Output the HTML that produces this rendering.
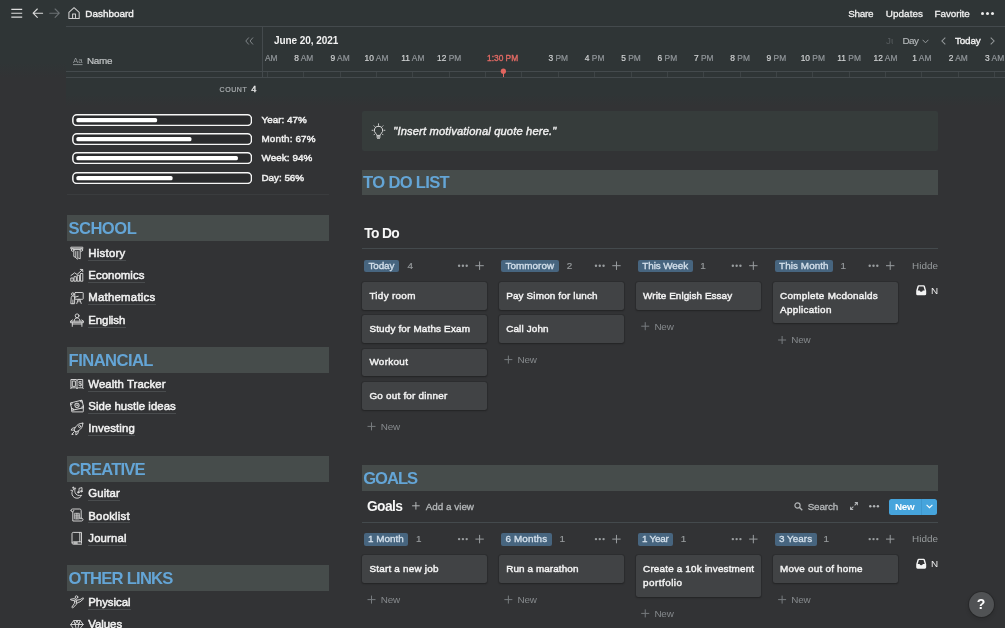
<!DOCTYPE html>
<html><head><meta charset="utf-8">
<style>
*{box-sizing:border-box;margin:0;padding:0}
html,body{width:1005px;height:628px;overflow:hidden;background:#323335}
body{font-family:"Liberation Sans",sans-serif;color:#e6e6e6;position:relative;font-size:10px;will-change:transform}
.a{position:absolute;white-space:nowrap}
.ln{position:absolute;background:#444a4d;height:1px}
.vl{position:absolute;background:#444a4d;width:1px}
.t{position:absolute;white-space:nowrap}
.hb{position:absolute;background:#464c4b;height:25.6px}
.ul{position:absolute;left:88px;height:1px;background:#494c4e}
.ic{position:absolute;left:69.5px;width:14.5px;height:14.5px}
.card{position:absolute;width:125.2px;background:#414345;border-radius:2.500px;box-shadow:0 1px 2px rgba(15,15,15,.32),0 0 0 1px rgba(15,15,15,.12)}
.tag{position:absolute;background:#47657f;border-radius:2px;height:12.6px}
.hour{position:absolute;font-size:8.4px;line-height:11px;color:#91969a;-webkit-text-stroke:.2px;white-space:nowrap;transform:translateX(-50%)}
.hour b{color:#cfd1d2;font-weight:normal}
.tick{position:absolute;top:72px;width:1px;height:5px;background:#3e4446}
.bar{position:absolute;left:71.6px;width:180.6px;height:12px;border:1.4px solid #f4f4f4;border-radius:4.5px}
.bar i{position:absolute;left:3px;top:2.4px;height:4.4px;background:#fff;border-radius:2px;display:block}
.dots{position:absolute;width:11px;height:3px}
.dots i{position:absolute;top:0;width:2.3px;height:2.3px;border-radius:50%;background:#9a9ea0}
.dots i:nth-child(1){left:0}.dots i:nth-child(2){left:3.9px}.dots i:nth-child(3){left:7.800px}
.plus{position:absolute;width:9px;height:9px}
.plus:before{content:"";position:absolute;left:0;top:4px;width:9px;height:1px;background:#9a9ea0}
.plus:after{content:"";position:absolute;left:4px;top:0;width:1px;height:9px;background:#9a9ea0}
.p2{width:8px;height:8px}.p2:before{width:8px;top:3.5px;background:#777b7e}.p2:after{height:8px;left:3.5px;background:#777b7e}
</style></head><body>

<div class="a" style="left:66px;top:0;width:939px;height:106px;background:linear-gradient(#2f3536 0,#2f3536 94px,rgba(47,53,54,0) 106px)"></div>
<div class="a" style="left:0;top:0;width:66px;height:78px;background:linear-gradient(#2f3536 0,#2f3536 62px,rgba(47,53,54,0) 78px)"></div>
<!-- TOP BAR ICONS -->
<svg class="a" style="left:0;top:0" width="100" height="26" viewBox="0 0 100 26" fill="none" stroke-linecap="round" stroke-linejoin="round">
<path d="M11.300 9.300H22.200M11.300 13.200H22.200M11.300 17.100H22.200" stroke="#dedede" stroke-width="1.150" stroke-linecap="butt"/>
<path d="M42.600 13.200H33.500M37.300 9L33.100 13.200l4.200 4.200" stroke="#dcdcdc" stroke-width="1.100"/>
<path d="M49.800 13.200H58.900M55.100 9l4.200 4.200-4.200 4.200" stroke="#6c7174" stroke-width="1.100"/>
<path d="M68.900 12.300L74.050 7.700l5.150 4.600v6.100H68.900zM72.600 18.400v-4.300h2.900v4.300" stroke="#d0d0d0" stroke-width="1.050"/>
</svg>
<div class="a" style="left:980.5px;top:11.8px;width:3px;height:3px;border-radius:50%;background:#ebebeb;box-shadow:5px 0 0 #ebebeb,10px 0 0 #ebebeb"></div>

<div class="ln" style="left:66px;top:26px;width:939px"></div>

<!-- TIMELINE -->
<div class="vl" style="left:262px;top:26px;height:52px"></div>
<svg class="a" style="left:244.5px;top:36.8px" width="9" height="8" viewBox="0 0 9 8"><path d="M3.800 .5L.8 4l3 3.500M8 .5L5 4l3 3.500" stroke="#858a8d" stroke-width=".95" fill="none"/></svg>
<svg class="a" style="left:72.5px;top:56px" width="10" height="10" viewBox="0 0 10 10"><text x="0" y="6.500" font-size="7.800" font-family="Liberation Sans" fill="#94999b">Aa</text><path d="M0 8.600h9.500" stroke="#94999b" stroke-width=".9"/></svg>
<div class="ln" style="left:66px;top:71px;width:939px"></div>
<div class="ln" style="left:66px;top:77px;width:939px"></div>
<div class="hour" style="left:303.8px;top:53.19px"><b>8</b> AM</div>
<div class="hour" style="left:340.1px;top:53.19px"><b>9</b> AM</div>
<div class="hour" style="left:376.5px;top:53.19px"><b>10</b> AM</div>
<div class="hour" style="left:412.8px;top:53.19px"><b>11</b> AM</div>
<div class="hour" style="left:449.2px;top:53.19px"><b>12</b> PM</div>
<div class="hour" style="left:558.3px;top:53.19px"><b>3</b> PM</div>
<div class="hour" style="left:594.6px;top:53.19px"><b>4</b> PM</div>
<div class="hour" style="left:631.0px;top:53.19px"><b>5</b> PM</div>
<div class="hour" style="left:667.4px;top:53.19px"><b>6</b> PM</div>
<div class="hour" style="left:703.7px;top:53.19px"><b>7</b> PM</div>
<div class="hour" style="left:740.1px;top:53.19px"><b>8</b> PM</div>
<div class="hour" style="left:776.4px;top:53.19px"><b>9</b> PM</div>
<div class="hour" style="left:812.8px;top:53.19px"><b>10</b> PM</div>
<div class="hour" style="left:849.1px;top:53.19px"><b>11</b> PM</div>
<div class="hour" style="left:885.5px;top:53.19px"><b>12</b> AM</div>
<div class="hour" style="left:921.9px;top:53.19px"><b>1</b> AM</div>
<div class="hour" style="left:958.2px;top:53.19px"><b>2</b> AM</div>
<div class="hour" style="left:994.6px;top:53.19px"><b>3</b> AM</div>
<div class="hour" style="left:264.9px;top:53.19px;transform:none">AM</div>
<div class="hour" style="left:502.6px;top:53.19px;color:#e26a64;-webkit-text-stroke:.35px #e26a64">1:30 PM</div>
<div class="tick" style="left:266.9px"></div>
<div class="tick" style="left:303.2px"></div>
<div class="tick" style="left:339.6px"></div>
<div class="tick" style="left:376.0px"></div>
<div class="tick" style="left:412.3px"></div>
<div class="tick" style="left:448.7px"></div>
<div class="tick" style="left:485.1px"></div>
<div class="tick" style="left:521.4px"></div>
<div class="tick" style="left:557.8px"></div>
<div class="tick" style="left:594.1px"></div>
<div class="tick" style="left:630.5px"></div>
<div class="tick" style="left:666.9px"></div>
<div class="tick" style="left:703.2px"></div>
<div class="tick" style="left:739.6px"></div>
<div class="tick" style="left:775.9px"></div>
<div class="tick" style="left:812.3px"></div>
<div class="tick" style="left:848.6px"></div>
<div class="tick" style="left:885.0px"></div>
<div class="tick" style="left:921.4px"></div>
<div class="tick" style="left:957.7px"></div>
<div class="tick" style="left:994.1px"></div>
<svg class="a" style="left:922.4px;top:38.6px" width="7" height="5" viewBox="0 0 7 5"><path d="M.6 .8L3.500 3.800 6.400 .8" stroke="#94999b" stroke-width="1" fill="none"/></svg>
<svg class="a" style="left:940.5px;top:36.6px" width="5" height="8" viewBox="0 0 5 8"><path d="M4.300 .6L.9 4l3.400 3.400" stroke="#94999b" stroke-width="1.050" fill="none"/></svg>
<svg class="a" style="left:990px;top:36.6px" width="5" height="8" viewBox="0 0 5 8"><path d="M.7 .6L4.100 4 .7 7.400" stroke="#94999b" stroke-width="1.050" fill="none"/></svg>
<!-- red marker -->
<svg class="a" style="left:498px;top:66px" width="12" height="12" viewBox="0 0 12 12"><circle cx="5.400" cy="5.200" r="2.600" fill="#e2655f"/></svg>
<div class="a" style="left:503px;top:72px;width:1px;height:5px;background:#e2655f"></div>

<!-- PROGRESS BARS -->
<svg class="a" style="left:71.9px;top:113.50px" width="180.300" height="12.2" viewBox="0 0 180.300 12.2"><rect x=".75" y=".75" width="178.800" height="10.7" rx="4" fill="#2a2b2d" stroke="#f6f6f6" stroke-width="1.5"/><rect x="4.300" y="3.900" width="80.8" height="4.400" rx="1.600" fill="#fff"/></svg>
<svg class="a" style="left:71.9px;top:132.85px" width="180.300" height="12.2" viewBox="0 0 180.300 12.2"><rect x=".75" y=".75" width="178.800" height="10.7" rx="4" fill="#2a2b2d" stroke="#f6f6f6" stroke-width="1.5"/><rect x="4.300" y="3.900" width="115.2" height="4.400" rx="1.600" fill="#fff"/></svg>
<svg class="a" style="left:71.9px;top:152.20px" width="180.300" height="12.2" viewBox="0 0 180.300 12.2"><rect x=".75" y=".75" width="178.800" height="10.7" rx="4" fill="#2a2b2d" stroke="#f6f6f6" stroke-width="1.5"/><rect x="4.300" y="3.900" width="161.7" height="4.400" rx="1.600" fill="#fff"/></svg>
<svg class="a" style="left:71.9px;top:171.55px" width="180.300" height="12.2" viewBox="0 0 180.300 12.2"><rect x=".75" y=".75" width="178.800" height="10.7" rx="4" fill="#2a2b2d" stroke="#f6f6f6" stroke-width="1.5"/><rect x="4.300" y="3.900" width="96.3" height="4.400" rx="1.600" fill="#fff"/></svg>
<div class="ln" style="left:67px;top:194px;width:262px;background:#3a3c3e"></div>

<!-- HEADER BACKGROUNDS -->
<div class="hb" style="left:67px;top:215.1px;width:262px"></div>
<div class="hb" style="left:67px;top:347px;width:262px"></div>
<div class="hb" style="left:67px;top:456px;width:262px"></div>
<div class="hb" style="left:67px;top:565.3px;width:262px"></div>
<div class="hb" style="left:361.5px;top:169.6px;width:576.5px"></div>
<div class="hb" style="left:361.5px;top:465px;width:576.5px"></div>

<!-- CALLOUT -->
<div class="a" style="left:361.5px;top:110.7px;width:576.5px;height:40.3px;background:#363c3b;border-radius:2px"></div>

<!-- board lines -->
<div class="ln" style="left:362px;top:248.2px;width:576px"></div>
<div class="ln" style="left:362px;top:521.800px;width:576px"></div>

<!-- Goals toolbar -->
<svg class="a" style="left:794.3px;top:502.2px" width="9" height="9" viewBox="0 0 9 9"><circle cx="3.500" cy="3.500" r="2.600" stroke="#b2b5b7" stroke-width="1.150" fill="none"/><path d="M5.500 5.500L8.300 8.300" stroke="#b2b5b7" stroke-width="1.300"/></svg>
<svg class="a" style="left:850.2px;top:502.2px" width="8" height="8" viewBox="0 0 8 8"><path d="M4.800 .6h2.600v2.600M7.400 .6L4.600 3.400M3.200 7.400H.6V4.800M.6 7.400l2.800-2.800" stroke="#b2b5b7" stroke-width="1.050" fill="none"/></svg>
<div class="a" style="left:889px;top:498.500px;width:48.2px;height:16.5px;background:#46a4dc;border-radius:2.500px"></div>
<div class="a" style="left:920.6px;top:498.500px;width:1px;height:16.5px;background:#3f97cd"></div>
<svg class="a" style="left:926px;top:504.2px" width="7" height="5" viewBox="0 0 7 5"><path d="M.6 .8L3.500 3.700 6.400 .8" stroke="#fff" stroke-width="1.100" fill="none"/></svg>

<svg class="a" style="left:69.8px;top:245.6px" width="14" height="14" viewBox="0 0 14 14"><g stroke="#d8d8d8" stroke-width=".95" fill="none" stroke-linecap="round" stroke-linejoin="round"><path d="M1.2 1.2h11.6v1.600H1.2z"/><circle cx="2.700" cy="4" r="1.300"/><circle cx="11.3" cy="4" r="1.300"/><path d="M4 3.600h6M3.800 5.500v5l2.200 1 1.200 1.700 1.400-1 1.600.6V5.500M5.800 5.500v5.500M7.800 5.500v6.200"/></g></svg>
<svg class="a" style="left:69.5px;top:268.2px" width="14" height="14" viewBox="0 0 14 14"><g stroke="#d8d8d8" stroke-width=".95" fill="none" stroke-linecap="round" stroke-linejoin="round"><path d="M1.200 13.200h2v-3.200h-2zM4.400 13.200h2V8.700h-2zM7.600 13.200h2V7.300h-2zM10.800 13.200h2V5.500h-2z"/><path d="M1 7.500l3.700-2.700 2.300 1.700 5.500-4.800M10.300 1.400l2.400.1.100 2.300"/></g></svg>
<svg class="a" style="left:69.9px;top:290.6px" width="14" height="14" viewBox="0 0 14 14"><g stroke="#d8d8d8" stroke-width=".95" fill="none" stroke-linecap="round" stroke-linejoin="round"><rect x="4.800" y="1.500" width="8.400" height="6.800" rx=".6"/><path d="M8.200 8.300l-1.400 4.200M9.800 8.300l1.400 4.200M9 8.300v2.500"/><circle cx="2.800" cy="3.100" r="1.300"/><path d="M1.200 6.300a1.200 1.200 0 0 1 1.200-1.200h1a1.200 1.200 0 0 1 1.200 1.200v6.400H1.200zM4.600 6.200l3.600-.9M2.900 9v3.700"/></g></svg>
<svg class="a" style="left:69.8px;top:312.8px" width="14" height="14" viewBox="0 0 14 14"><g stroke="#d8d8d8" stroke-width=".95" fill="none" stroke-linecap="round" stroke-linejoin="round"><circle cx="7.100" cy="2.800" r="1.900"/><path d="M4.200 8.200c0-2.200 1.200-3.300 2.900-3.300s2.900 1.100 2.900 3.300M.8 8.200h12.600v1.500H.8zM2.300 9.700v3.700M11.900 9.700v3.700M2.300 11h9.600"/><path d="M.8 8.200l1.600-1.300M13.400 8.200l-1.600-1.300"/></g></svg>
<svg class="a" style="left:69.6px;top:377.4px" width="14" height="14" viewBox="0 0 14 14"><g stroke="#d8d8d8" stroke-width=".95" fill="none" stroke-linecap="round" stroke-linejoin="round"><path d="M1.300 2.500h4.700c.6 0 1 .4 1 .9 0-.5.400-.9 1-.9h4.700v8.300H8.200c-.7 0-1.200.3-1.200.8 0-.5-.500-.8-1.200-.8H1.300zM7 3.400v8.200M.8 11.600l.5-.8M13.200 11.600l-.5-.8"/><path d="M2.700 4h2.700v5.400H2.700z"/><text x="8.300" y="9.200" font-size="6.800" font-weight="bold" font-family="Liberation Sans" fill="#d0d0d0" stroke="none">$</text></g></svg>
<svg class="a" style="left:69.9px;top:399.4px" width="14" height="14" viewBox="0 0 14 14"><g stroke="#d8d8d8" stroke-width=".95" fill="none" stroke-linecap="round" stroke-linejoin="round"><rect x="1.700" y="6.400" width="11.600" height="6.500" rx=".4"/><g transform="rotate(-13 7 6.300)"><rect x="1" y="2.500" width="12" height="7.600" rx=".4" fill="#323335"/><circle cx="7" cy="6.300" r="2.100"/><circle cx="7" cy="6.300" r=".6" stroke-width=".7"/><path d="M1 4.300a1.800 1.800 0 0 0 1.800-1.800M13 4.300a1.800 1.800 0 0 1-1.800-1.800M1 8.300a1.800 1.800 0 0 1 1.800 1.800M13 8.300a1.800 1.800 0 0 0-1.800 1.800"/></g></g></svg>
<svg class="a" style="left:69.9px;top:422px" width="14" height="14" viewBox="0 0 14 14"><g stroke="#d8d8d8" stroke-width=".95" fill="none" stroke-linecap="round" stroke-linejoin="round"><path d="M12.800 1.200c-3-.2-5.600 1.300-7.500 4.200L4 8l2 2 2.600-1.300c2.900-1.900 4.400-4.500 4.200-7.500z"/><circle cx="9.600" cy="4.400" r="1.100"/><path d="M5.200 5.600l-2.700.5-1.500 2 2.900.0M8.400 8.800l-.5 2.700-2 1.500.0-2.900M4.400 9.600l-2.700 2.700.3.300 1.200-.3"/></g></svg>
<svg class="a" style="left:69.7px;top:486.3px" width="14" height="14" viewBox="0 0 14 14"><g stroke="#d8d8d8" stroke-width=".95" fill="none" stroke-linecap="round" stroke-linejoin="round"><path d="M5.200 2.300C2.800 3.300 1.500 5.700 2 8.200c.6 2.800 3.300 4.500 6.100 3.900 1.600-.4 2.900-1.400 3.600-2.800-2.900 1-5.700-.3-6.600-2.700-.5-1.500-.4-3 .1-4.300z"/><path d="M9 6.200V2.400l3-.8v3.600"/><circle cx="8.300" cy="6.300" r=".75" fill="#d0d0d0"/><circle cx="11.300" cy="5.300" r=".75" fill="#d0d0d0"/><path d="M3.300 1v1.400M2.600 1.700H4M.9 4.300h1"/></g></svg>
<svg class="a" style="left:69.9px;top:508.4px" width="14" height="14" viewBox="0 0 14 14"><g stroke="#d8d8d8" stroke-width=".95" fill="none" stroke-linecap="round" stroke-linejoin="round"><path d="M1 2.400c0-.8.600-1.400 1.400-1.400h7.400c.8 0 1.400.6 1.400 1.400v8.400M1 2.400c0 .8.600 1.400 1.400 1.400s1.400-.6 1.400-1.400M2.800 3.800V13h8.800c.8 0 1.400-.6 1.400-1.400s-.6-1.400-1.400-1.400H10"/><path d="M4.800 5.300h4.600v5.600H4.800zM4.800 7.200h4.600M4.800 9h4.600M6.300 5.300v5.600M7.900 5.300v5.600" stroke-width=".7"/></g></svg>
<svg class="a" style="left:69.7px;top:530.9px" width="14" height="14" viewBox="0 0 14 14"><g stroke="#d8d8d8" stroke-width=".95" fill="none" stroke-linecap="round" stroke-linejoin="round"><path d="M2 11.400V2.600c0-.7.500-1.200 1.200-1.200h8.300v9.400H3.300c-.7 0-1.300.5-1.300 1.200s.6 1.200 1.300 1.200h8.200M9.800 1.400v9.400M11.500 10.800v1.400"/><path d="M3.800 12h3.400" stroke-width="1.300"/></g></svg>
<svg class="a" style="left:69.5px;top:595.4px" width="14" height="14" viewBox="0 0 14 14"><g stroke="#d8d8d8" stroke-width=".95" fill="none" stroke-linecap="round" stroke-linejoin="round"><circle cx="6.500" cy="2.100" r="1.300"/><path d="M.8 4.200l3.400-.6 2.600 1.600 3.200-.6 3.200-1.800.5.900-3.700 3.200-2.300.6-1.500 2-3.500 3.500-.9-.7 2.600-4 .2-2.500-3.500-.8zM4.600 5l2 2.400M6.800 5.200l-.6 3.300"/></g></svg>
<svg class="a" style="left:69.7px;top:618.6px" width="14" height="14" viewBox="0 0 14 14"><g stroke="#d8d8d8" stroke-width=".95" fill="none" stroke-linecap="round" stroke-linejoin="round"><path d="M.8 5.500l3-4h6.400l3 4L7 13.200zM.8 5.500h12.400M3.800 1.500l1.400 4 1.800 7.700 1.800-7.700 1.400-4M5.200 5.500L7 1.500l1.800 4"/></g></svg>
<svg class="a" style="left:368px;top:120px" width="22" height="22" viewBox="368 120 22 22"><g stroke="#d6d6d6" stroke-width="1" fill="none" stroke-linecap="round" stroke-linejoin="round"><path d="M378.500 126.100a4.200 4.200 0 0 0-2.700 7.400c.6.500.9 1.100.9 1.900h3.600c0-.8.300-1.400.9-1.900a4.200 4.200 0 0 0-2.700-7.400z"/><path d="M376.900 136.900h3.200M377.500 138.200h2" stroke-width="1.100"/><path d="M378.500 123.800v1M372.100 130.300h1M383.900 130.300h1M374 125.800l.7.700M383 125.800l-.7.700M374 134.800l.7-.7M383 134.800l-.7-.7" stroke-width=".9"/></g></svg>
<div class="ul" style="top:259.6px;width:37.6px"></div>
<div class="ul" style="top:282.1px;width:56.7px"></div>
<div class="ul" style="top:304.3px;width:67.5px"></div>
<div class="ul" style="top:326.6px;width:37.6px"></div>
<div class="ul" style="top:390.6px;width:77.8px"></div>
<div class="ul" style="top:412.8px;width:88.1px"></div>
<div class="ul" style="top:435.1px;width:47.1px"></div>
<div class="ul" style="top:500.2px;width:32.0px"></div>
<div class="ul" style="top:522.4px;width:42.0px"></div>
<div class="ul" style="top:544.7px;width:38.8px"></div>
<div class="ul" style="top:608.7px;width:42.8px"></div>
<div class="ul" style="top:630.9px;width:34.4px"></div>
<div class="tag" style="left:364.3px;top:259.6px;width:34.8px"></div>
<div class="card" style="left:362.3px;top:282.0px;height:27.6px"></div>
<div class="card" style="left:362.3px;top:315.4px;height:27.6px"></div>
<div class="card" style="left:362.3px;top:348.8px;height:27.6px"></div>
<div class="card" style="left:362.3px;top:382.2px;height:27.6px"></div>
<div class="tag" style="left:501.2px;top:259.6px;width:57.7px"></div>
<div class="card" style="left:499.2px;top:282.0px;height:27.6px"></div>
<div class="card" style="left:499.2px;top:315.4px;height:27.6px"></div>
<div class="tag" style="left:638.0px;top:259.6px;width:54.9px"></div>
<div class="card" style="left:636.0px;top:282.0px;height:27.6px"></div>
<div class="tag" style="left:774.9px;top:259.6px;width:58.3px"></div>
<div class="card" style="left:772.9px;top:282.0px;height:41.4px"></div>
<div class="tag" style="left:364.3px;top:533.0px;width:43.7px"></div>
<div class="card" style="left:362.3px;top:555.4px;height:27.6px"></div>
<div class="tag" style="left:501.2px;top:533.0px;width:50.7px"></div>
<div class="card" style="left:499.2px;top:555.4px;height:27.6px"></div>
<div class="tag" style="left:638.0px;top:533.0px;width:35.2px"></div>
<div class="card" style="left:636.0px;top:555.4px;height:41.4px"></div>
<div class="tag" style="left:774.9px;top:533.0px;width:41.7px"></div>
<div class="card" style="left:772.9px;top:555.4px;height:27.6px"></div>
<svg class="a" style="left:0;top:0" width="1005" height="628" viewBox="0 0 1005 628" fill="none"><circle cx="459.10" cy="265.70" r="1.2" fill="#9a9ea0"/><circle cx="462.90" cy="265.70" r="1.2" fill="#9a9ea0"/><circle cx="466.70" cy="265.70" r="1.2" fill="#9a9ea0"/><path d="M475.40 265.70H483.80M479.60 261.50V269.90" stroke="#9a9ea0" stroke-width="1"/><path d="M367.50 426.40H375.50M371.50 422.40V430.40" stroke="#777b7e" stroke-width="1"/><circle cx="595.97" cy="265.70" r="1.2" fill="#9a9ea0"/><circle cx="599.77" cy="265.70" r="1.2" fill="#9a9ea0"/><circle cx="603.57" cy="265.70" r="1.2" fill="#9a9ea0"/><path d="M612.27 265.70H620.67M616.47 261.50V269.90" stroke="#9a9ea0" stroke-width="1"/><path d="M504.37 359.60H512.37M508.37 355.60V363.60" stroke="#777b7e" stroke-width="1"/><circle cx="732.84" cy="265.70" r="1.2" fill="#9a9ea0"/><circle cx="736.64" cy="265.70" r="1.2" fill="#9a9ea0"/><circle cx="740.44" cy="265.70" r="1.2" fill="#9a9ea0"/><path d="M749.14 265.70H757.54M753.34 261.50V269.90" stroke="#9a9ea0" stroke-width="1"/><path d="M641.24 326.20H649.24M645.24 322.20V330.20" stroke="#777b7e" stroke-width="1"/><circle cx="869.71" cy="265.70" r="1.2" fill="#9a9ea0"/><circle cx="873.51" cy="265.70" r="1.2" fill="#9a9ea0"/><circle cx="877.31" cy="265.70" r="1.2" fill="#9a9ea0"/><path d="M886.01 265.70H894.41M890.21 261.50V269.90" stroke="#9a9ea0" stroke-width="1"/><path d="M778.11 340.00H786.11M782.11 336.00V344.00" stroke="#777b7e" stroke-width="1"/><g transform="translate(916.20 285.30)"><path d="M2.600 0h4.800a1.400 1.400 0 0 1 1.350 1l1.200 4.300q.05.2.05.4v2.900a1.400 1.400 0 0 1-1.400 1.400H1.400A1.400 1.400 0 0 1 0 8.600V5.700q0-.2.050-.4L1.250 1A1.400 1.400 0 0 1 2.600 0zM2.700 1.300L1.500 5.300h1.900a1.650 1.650 0 0 0 3.200 0h1.900L7.300 1.300z" fill="#f4f4f4" fill-rule="evenodd"/></g><circle cx="459.10" cy="539.10" r="1.2" fill="#9a9ea0"/><circle cx="462.90" cy="539.10" r="1.2" fill="#9a9ea0"/><circle cx="466.70" cy="539.10" r="1.2" fill="#9a9ea0"/><path d="M475.40 539.10H483.80M479.60 534.90V543.30" stroke="#9a9ea0" stroke-width="1"/><path d="M367.50 599.60H375.50M371.50 595.60V603.60" stroke="#777b7e" stroke-width="1"/><circle cx="595.97" cy="539.10" r="1.2" fill="#9a9ea0"/><circle cx="599.77" cy="539.10" r="1.2" fill="#9a9ea0"/><circle cx="603.57" cy="539.10" r="1.2" fill="#9a9ea0"/><path d="M612.27 539.10H620.67M616.47 534.90V543.30" stroke="#9a9ea0" stroke-width="1"/><path d="M504.37 599.60H512.37M508.37 595.60V603.60" stroke="#777b7e" stroke-width="1"/><circle cx="732.84" cy="539.10" r="1.2" fill="#9a9ea0"/><circle cx="736.64" cy="539.10" r="1.2" fill="#9a9ea0"/><circle cx="740.44" cy="539.10" r="1.2" fill="#9a9ea0"/><path d="M749.14 539.10H757.54M753.34 534.90V543.30" stroke="#9a9ea0" stroke-width="1"/><path d="M641.24 613.40H649.24M645.24 609.40V617.40" stroke="#777b7e" stroke-width="1"/><circle cx="869.71" cy="539.10" r="1.2" fill="#9a9ea0"/><circle cx="873.51" cy="539.10" r="1.2" fill="#9a9ea0"/><circle cx="877.31" cy="539.10" r="1.2" fill="#9a9ea0"/><path d="M886.01 539.10H894.41M890.21 534.90V543.30" stroke="#9a9ea0" stroke-width="1"/><path d="M778.11 599.60H786.11M782.11 595.60V603.60" stroke="#777b7e" stroke-width="1"/><g transform="translate(916.20 558.70)"><path d="M2.600 0h4.800a1.400 1.400 0 0 1 1.350 1l1.200 4.300q.05.2.05.4v2.900a1.400 1.400 0 0 1-1.400 1.400H1.400A1.400 1.400 0 0 1 0 8.600V5.700q0-.2.050-.4L1.250 1A1.400 1.400 0 0 1 2.600 0zM2.700 1.300L1.500 5.300h1.900a1.650 1.650 0 0 0 3.200 0h1.900L7.300 1.300z" fill="#f4f4f4" fill-rule="evenodd"/></g><path d="M412.10 505.80H419.70M415.90 502.00V509.60" stroke="#b2b5b7" stroke-width="1"/><circle cx="870.30" cy="506.30" r="1.2" fill="#b2b5b7"/><circle cx="874.10" cy="506.30" r="1.2" fill="#b2b5b7"/><circle cx="877.90" cy="506.30" r="1.2" fill="#b2b5b7"/></svg>

<div class="t" style="left:85.3px;top:6.77px;font-size:9.9px;line-height:13px;height:13px;color:#f0f0f0;letter-spacing:0.023px;-webkit-text-stroke:0.4px #f0f0f0;">Dashboard</div>
<div class="t" style="left:848.3px;top:6.77px;font-size:9.9px;line-height:13px;height:13px;color:#f0f0f0;letter-spacing:-0.315px;-webkit-text-stroke:0.3px #f0f0f0;">Share</div>
<div class="t" style="left:885.7px;top:6.77px;font-size:9.9px;line-height:13px;height:13px;color:#f0f0f0;letter-spacing:0.086px;-webkit-text-stroke:0.3px #f0f0f0;">Updates</div>
<div class="t" style="left:934.6px;top:6.77px;font-size:9.9px;line-height:13px;height:13px;color:#f0f0f0;letter-spacing:-0.082px;-webkit-text-stroke:0.3px #f0f0f0;">Favorite</div>
<div class="t" style="left:273.9px;top:33.63px;font-size:10px;line-height:13px;height:13px;color:#f2f2f2;font-weight:bold;letter-spacing:-0.046px;">June 20, 2021</div>
<div class="t" style="left:86.9px;top:54.17px;font-size:9.9px;line-height:13px;height:13px;color:#c2c5c6;letter-spacing:-0.281px;-webkit-text-stroke:0.2px #c2c5c6;">Name</div>
<div class="t" style="left:219.5px;top:85.37px;font-size:7px;line-height:9px;height:9px;color:#a9adaf;letter-spacing:0.577px;-webkit-text-stroke:0.2px #a9adaf;">COUNT</div>
<div class="t" style="left:251.3px;top:83.11px;font-size:9.2px;line-height:12px;height:12px;color:#ebebeb;-webkit-text-stroke:0.3px #ebebeb;">4</div>
<div class="t" style="left:886.0px;top:34.27px;font-size:9.9px;line-height:13px;height:13px;color:#575c5f;width:7px;overflow:hidden;">Ju</div>
<div class="t" style="left:902.6px;top:34.27px;font-size:9.9px;line-height:13px;height:13px;color:#b4b8ba;letter-spacing:-0.631px;-webkit-text-stroke:0.15px #b4b8ba;">Day</div>
<div class="t" style="left:955.0px;top:34.27px;font-size:9.9px;line-height:13px;height:13px;color:#f0f0f0;letter-spacing:-0.165px;-webkit-text-stroke:0.35px #f0f0f0;">Today</div>
<div class="t" style="left:261.5px;top:112.67px;font-size:9.9px;line-height:13px;height:13px;color:#f0f0f0;letter-spacing:0.012px;-webkit-text-stroke:0.45px #f0f0f0;">Year: 47%</div>
<div class="t" style="left:261.5px;top:132.07px;font-size:9.9px;line-height:13px;height:13px;color:#f0f0f0;letter-spacing:0.144px;-webkit-text-stroke:0.45px #f0f0f0;">Month: 67%</div>
<div class="t" style="left:261.5px;top:151.47px;font-size:9.9px;line-height:13px;height:13px;color:#f0f0f0;letter-spacing:0.059px;-webkit-text-stroke:0.45px #f0f0f0;">Week: 94%</div>
<div class="t" style="left:261.5px;top:170.87px;font-size:9.9px;line-height:13px;height:13px;color:#f0f0f0;letter-spacing:-0.033px;-webkit-text-stroke:0.45px #f0f0f0;">Day: 56%</div>
<div class="t" style="left:88.3px;top:245.75px;font-size:11.4px;line-height:15px;height:15px;color:#f1f1f1;letter-spacing:0.258px;-webkit-text-stroke:0.5px #f1f1f1;">History</div>
<div class="t" style="left:88.3px;top:268.25px;font-size:11.4px;line-height:15px;height:15px;color:#f1f1f1;letter-spacing:0.048px;-webkit-text-stroke:0.5px #f1f1f1;">Economics</div>
<div class="t" style="left:88.3px;top:290.45px;font-size:11.4px;line-height:15px;height:15px;color:#f1f1f1;letter-spacing:0.232px;-webkit-text-stroke:0.5px #f1f1f1;">Mathematics</div>
<div class="t" style="left:88.3px;top:312.75px;font-size:11.4px;line-height:15px;height:15px;color:#f1f1f1;letter-spacing:-0.060px;-webkit-text-stroke:0.5px #f1f1f1;">English</div>
<div class="t" style="left:88.3px;top:376.75px;font-size:11.4px;line-height:15px;height:15px;color:#f1f1f1;letter-spacing:0.062px;-webkit-text-stroke:0.5px #f1f1f1;">Wealth Tracker</div>
<div class="t" style="left:88.3px;top:398.95px;font-size:11.4px;line-height:15px;height:15px;color:#f1f1f1;letter-spacing:0.046px;-webkit-text-stroke:0.5px #f1f1f1;">Side hustle ideas</div>
<div class="t" style="left:88.3px;top:421.25px;font-size:11.4px;line-height:15px;height:15px;color:#f1f1f1;letter-spacing:0.113px;-webkit-text-stroke:0.5px #f1f1f1;">Investing</div>
<div class="t" style="left:88.3px;top:486.35px;font-size:11.4px;line-height:15px;height:15px;color:#f1f1f1;letter-spacing:0.074px;-webkit-text-stroke:0.5px #f1f1f1;">Guitar</div>
<div class="t" style="left:88.3px;top:508.55px;font-size:11.4px;line-height:15px;height:15px;color:#f1f1f1;letter-spacing:0.216px;-webkit-text-stroke:0.5px #f1f1f1;">Booklist</div>
<div class="t" style="left:88.3px;top:530.85px;font-size:11.4px;line-height:15px;height:15px;color:#f1f1f1;letter-spacing:0.140px;-webkit-text-stroke:0.5px #f1f1f1;">Journal</div>
<div class="t" style="left:88.3px;top:594.85px;font-size:11.4px;line-height:15px;height:15px;color:#f1f1f1;letter-spacing:-0.032px;-webkit-text-stroke:0.5px #f1f1f1;">Physical</div>
<div class="t" style="left:88.3px;top:617.05px;font-size:11.4px;line-height:15px;height:15px;color:#f1f1f1;letter-spacing:-0.037px;-webkit-text-stroke:0.5px #f1f1f1;">Values</div>
<div class="t" style="left:68.4px;top:218.25px;font-size:16.6px;line-height:22px;height:22px;color:#64a5d6;font-weight:bold;letter-spacing:-0.520px;">SCHOOL</div>
<div class="t" style="left:68.6px;top:350.15px;font-size:16.6px;line-height:22px;height:22px;color:#64a5d6;font-weight:bold;letter-spacing:-0.565px;">FINANCIAL</div>
<div class="t" style="left:68.6px;top:458.95px;font-size:16.6px;line-height:22px;height:22px;color:#64a5d6;font-weight:bold;letter-spacing:-0.810px;">CREATIVE</div>
<div class="t" style="left:68.6px;top:567.95px;font-size:16.6px;line-height:22px;height:22px;color:#64a5d6;font-weight:bold;letter-spacing:-0.768px;">OTHER LINKS</div>
<div class="t" style="left:363.1px;top:172.15px;font-size:16.6px;line-height:22px;height:22px;color:#64a5d6;font-weight:bold;letter-spacing:-0.690px;">TO DO LIST</div>
<div class="t" style="left:363.2px;top:468.45px;font-size:16.6px;line-height:22px;height:22px;color:#64a5d6;font-weight:bold;letter-spacing:-1.004px;">GOALS</div>
<div class="t" style="left:393.3px;top:123.92px;font-size:11.2px;line-height:15px;height:15px;color:#f0f0f0;font-style:italic;letter-spacing:0.142px;-webkit-text-stroke:0.4px #f0f0f0;">&quot;Insert motivational quote here.&quot;</div>
<div class="t" style="left:364.2px;top:224.72px;font-size:13.8px;line-height:18px;height:18px;color:#f7f7f7;font-weight:bold;letter-spacing:-0.616px;">To Do</div>
<div class="t" style="left:366.9px;top:498.12px;font-size:13.8px;line-height:18px;height:18px;color:#f7f7f7;font-weight:bold;letter-spacing:-0.586px;">Goals</div>
<div class="t" style="left:425.8px;top:500.37px;font-size:9.9px;line-height:13px;height:13px;color:#b6b9bb;letter-spacing:-0.012px;-webkit-text-stroke:0.3px #b6b9bb;">Add a view</div>
<div class="t" style="left:807.7px;top:500.27px;font-size:9.9px;line-height:13px;height:13px;color:#b6b9bb;letter-spacing:-0.159px;-webkit-text-stroke:0.3px #b6b9bb;">Search</div>
<div class="t" style="left:894.9px;top:500.07px;font-size:9.9px;line-height:13px;height:13px;color:#ffffff;font-weight:bold;letter-spacing:-0.306px;">New</div>
<div class="t" style="left:368.5px;top:258.97px;font-size:9.9px;line-height:13px;height:13px;color:#d5e1ec;letter-spacing:-0.115px;-webkit-text-stroke:0.3px #d5e1ec;">Today</div>
<div class="t" style="left:407.4px;top:258.97px;font-size:9.9px;line-height:13px;height:13px;color:#979b9d;-webkit-text-stroke:0.2px #979b9d;">4</div>
<div class="t" style="left:369.4px;top:288.67px;font-size:9.9px;line-height:13px;height:13px;color:#f3f3f3;letter-spacing:0.309px;-webkit-text-stroke:0.45px #f3f3f3;">Tidy room</div>
<div class="t" style="left:369.4px;top:322.07px;font-size:9.9px;line-height:13px;height:13px;color:#f3f3f3;letter-spacing:0.177px;-webkit-text-stroke:0.45px #f3f3f3;">Study for Maths Exam</div>
<div class="t" style="left:369.4px;top:355.47px;font-size:9.9px;line-height:13px;height:13px;color:#f3f3f3;letter-spacing:0.318px;-webkit-text-stroke:0.45px #f3f3f3;">Workout</div>
<div class="t" style="left:369.4px;top:388.87px;font-size:9.9px;line-height:13px;height:13px;color:#f3f3f3;letter-spacing:0.231px;-webkit-text-stroke:0.45px #f3f3f3;">Go out for dinner</div>
<div class="t" style="left:380.7px;top:419.87px;font-size:9.9px;line-height:13px;height:13px;color:#868a8d;letter-spacing:-0.183px;">New</div>
<div class="t" style="left:505.4px;top:258.97px;font-size:9.9px;line-height:13px;height:13px;color:#d5e1ec;letter-spacing:0.072px;-webkit-text-stroke:0.3px #d5e1ec;">Tommorow</div>
<div class="t" style="left:566.8px;top:258.97px;font-size:9.9px;line-height:13px;height:13px;color:#979b9d;-webkit-text-stroke:0.2px #979b9d;">2</div>
<div class="t" style="left:506.2px;top:288.67px;font-size:9.9px;line-height:13px;height:13px;color:#f3f3f3;letter-spacing:0.168px;-webkit-text-stroke:0.45px #f3f3f3;">Pay Simon for lunch</div>
<div class="t" style="left:506.2px;top:322.07px;font-size:9.9px;line-height:13px;height:13px;color:#f3f3f3;letter-spacing:0.154px;-webkit-text-stroke:0.45px #f3f3f3;">Call John</div>
<div class="t" style="left:517.5px;top:353.07px;font-size:9.9px;line-height:13px;height:13px;color:#868a8d;letter-spacing:-0.183px;">New</div>
<div class="t" style="left:642.3px;top:258.97px;font-size:9.9px;line-height:13px;height:13px;color:#d5e1ec;letter-spacing:-0.084px;-webkit-text-stroke:0.3px #d5e1ec;">This Week</div>
<div class="t" style="left:700.3px;top:258.97px;font-size:9.9px;line-height:13px;height:13px;color:#979b9d;-webkit-text-stroke:0.2px #979b9d;">1</div>
<div class="t" style="left:643.1px;top:288.67px;font-size:9.9px;line-height:13px;height:13px;color:#f3f3f3;letter-spacing:0.076px;-webkit-text-stroke:0.45px #f3f3f3;">Write Enlgish Essay</div>
<div class="t" style="left:654.4px;top:319.67px;font-size:9.9px;line-height:13px;height:13px;color:#868a8d;letter-spacing:-0.183px;">New</div>
<div class="t" style="left:779.1px;top:258.97px;font-size:9.9px;line-height:13px;height:13px;color:#d5e1ec;letter-spacing:0.071px;-webkit-text-stroke:0.3px #d5e1ec;">This Month</div>
<div class="t" style="left:840.5px;top:258.97px;font-size:9.9px;line-height:13px;height:13px;color:#979b9d;-webkit-text-stroke:0.2px #979b9d;">1</div>
<div class="t" style="left:780.0px;top:288.67px;font-size:9.9px;line-height:13px;height:13px;color:#f3f3f3;letter-spacing:0.296px;-webkit-text-stroke:0.45px #f3f3f3;">Complete Mcdonalds</div>
<div class="t" style="left:780.0px;top:303.07px;font-size:9.9px;line-height:13px;height:13px;color:#f3f3f3;letter-spacing:0.309px;-webkit-text-stroke:0.45px #f3f3f3;">Application</div>
<div class="t" style="left:791.3px;top:333.47px;font-size:9.9px;line-height:13px;height:13px;color:#868a8d;letter-spacing:-0.183px;">New</div>
<div class="t" style="left:912.1px;top:258.97px;font-size:9.9px;line-height:13px;height:13px;color:#979b9d;width:26.2px;overflow:hidden;">Hidden</div>
<div class="t" style="left:931.0px;top:283.87px;font-size:9.9px;line-height:13px;height:13px;color:#ebebeb;width:6.6px;overflow:hidden;">No</div>
<div class="t" style="left:367.9px;top:532.37px;font-size:9.9px;line-height:13px;height:13px;color:#d5e1ec;letter-spacing:0.035px;-webkit-text-stroke:0.3px #d5e1ec;">1 Month</div>
<div class="t" style="left:416.1px;top:532.37px;font-size:9.9px;line-height:13px;height:13px;color:#979b9d;-webkit-text-stroke:0.2px #979b9d;">1</div>
<div class="t" style="left:369.4px;top:562.07px;font-size:9.9px;line-height:13px;height:13px;color:#f3f3f3;letter-spacing:0.230px;-webkit-text-stroke:0.45px #f3f3f3;">Start a new job</div>
<div class="t" style="left:380.7px;top:593.07px;font-size:9.9px;line-height:13px;height:13px;color:#868a8d;letter-spacing:-0.183px;">New</div>
<div class="t" style="left:505.4px;top:532.37px;font-size:9.9px;line-height:13px;height:13px;color:#d5e1ec;letter-spacing:0.168px;-webkit-text-stroke:0.3px #d5e1ec;">6 Months</div>
<div class="t" style="left:559.6px;top:532.37px;font-size:9.9px;line-height:13px;height:13px;color:#979b9d;-webkit-text-stroke:0.2px #979b9d;">1</div>
<div class="t" style="left:506.2px;top:562.07px;font-size:9.9px;line-height:13px;height:13px;color:#f3f3f3;letter-spacing:0.106px;-webkit-text-stroke:0.45px #f3f3f3;">Run a marathon</div>
<div class="t" style="left:517.5px;top:593.07px;font-size:9.9px;line-height:13px;height:13px;color:#868a8d;letter-spacing:-0.183px;">New</div>
<div class="t" style="left:641.9px;top:532.37px;font-size:9.9px;line-height:13px;height:13px;color:#d5e1ec;letter-spacing:-0.203px;-webkit-text-stroke:0.3px #d5e1ec;">1 Year</div>
<div class="t" style="left:680.8px;top:532.37px;font-size:9.9px;line-height:13px;height:13px;color:#979b9d;-webkit-text-stroke:0.2px #979b9d;">1</div>
<div class="t" style="left:643.1px;top:562.07px;font-size:9.9px;line-height:13px;height:13px;color:#f3f3f3;letter-spacing:0.180px;-webkit-text-stroke:0.45px #f3f3f3;">Create a 10k investment</div>
<div class="t" style="left:643.1px;top:576.47px;font-size:9.9px;line-height:13px;height:13px;color:#f3f3f3;letter-spacing:0.470px;-webkit-text-stroke:0.45px #f3f3f3;">portfolio</div>
<div class="t" style="left:654.4px;top:606.87px;font-size:9.9px;line-height:13px;height:13px;color:#868a8d;letter-spacing:-0.183px;">New</div>
<div class="t" style="left:778.9px;top:532.37px;font-size:9.9px;line-height:13px;height:13px;color:#d5e1ec;letter-spacing:0.041px;-webkit-text-stroke:0.3px #d5e1ec;">3 Years</div>
<div class="t" style="left:823.6px;top:532.37px;font-size:9.9px;line-height:13px;height:13px;color:#979b9d;-webkit-text-stroke:0.2px #979b9d;">1</div>
<div class="t" style="left:780.0px;top:562.07px;font-size:9.9px;line-height:13px;height:13px;color:#f3f3f3;letter-spacing:0.230px;-webkit-text-stroke:0.45px #f3f3f3;">Move out of home</div>
<div class="t" style="left:791.3px;top:593.07px;font-size:9.9px;line-height:13px;height:13px;color:#868a8d;letter-spacing:-0.183px;">New</div>
<div class="t" style="left:912.1px;top:532.37px;font-size:9.9px;line-height:13px;height:13px;color:#979b9d;width:26.2px;overflow:hidden;">Hidden</div>
<div class="t" style="left:931.0px;top:557.27px;font-size:9.9px;line-height:13px;height:13px;color:#ebebeb;width:6.6px;overflow:hidden;">No</div>

<!-- help -->
<div class="a" style="left:968.5px;top:591.5px;width:25px;height:25px;border-radius:50%;background:#505254;box-shadow:0 0 0 1px rgba(15,15,15,.2),0 2px 4px rgba(15,15,15,.2)"></div>
<div class="t" style="left:976.8px;top:595.5px;font-size:14px;line-height:17px;font-weight:bold;color:#fff">?</div>

</body></html>
